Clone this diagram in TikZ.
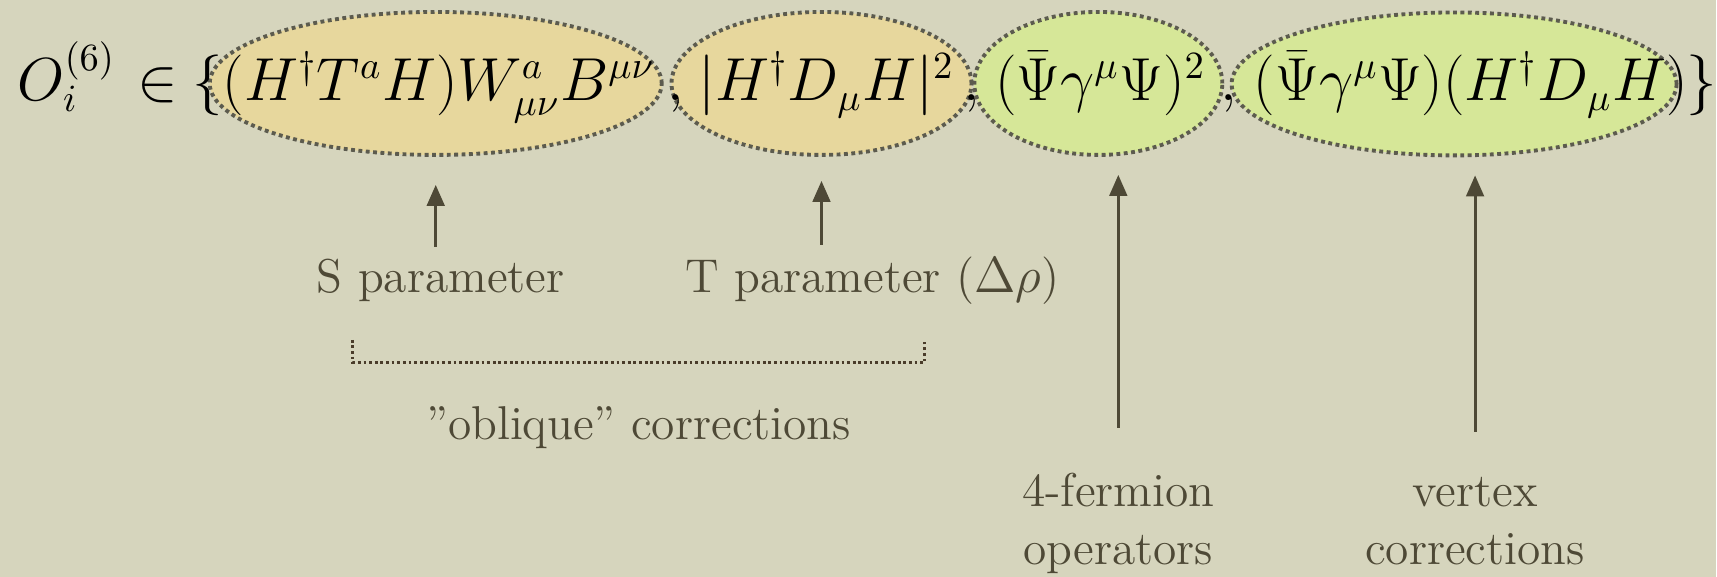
\documentclass[tikz,border=0pt]{standalone}
\usetikzlibrary{arrows.meta,shapes.geometric}
\definecolor{Linen}{HTML}{D6D5BD}
\definecolor{Tan}{HTML}{E7D79D}
\definecolor{Lime}{HTML}{D6E798}
\definecolor{Dots}{HTML}{5C5B4E}
\definecolor{Ink}{HTML}{4E4936}
\definecolor{Brace}{HTML}{4A3C2A}

\begin{document}
\begin{tikzpicture}[x=0.01cm,y=-0.01cm,>={Triangle[width=5pt,length=6pt]},
  every node/.style={text=Ink,inner sep=0pt},
  oval/.style={ellipse,draw=Dots,line width=1.1pt,dash pattern=on 1.1pt off 1pt,minimum height=1.43cm},
  term/.style={anchor=base west,text=black,font=\fontsize{16}{19}\selectfont},
  lbl/.style={anchor=base,font=\fontsize{13.5}{16.5}\selectfont,align=center},
  arr/.style={->,draw=Ink,line width=0.9pt}]
\fill[Linen] (0,0) rectangle (1717,577);
% the four operator classes
\node[oval,fill=Tan,minimum width=4.52cm] (e1) at (436,83.5) {};
\node[oval,fill=Tan,minimum width=3.0cm] (e2) at (822,83.5) {};
\node[oval,fill=Lime,minimum width=2.48cm] (e3) at (1099,83.5) {};
\node[oval,fill=Lime,minimum width=4.45cm] (e4) at (1455,84) {};
% formula
\node[term] (lhs) at (17,101) {$O_i^{(6)}$};
\node[term] (in) at (137,101) {$\in$};
\node[term] (lb) at (192,101) {$\{$};
\node[term] (t1) at (222,101) {$(H^\dagger T^a H)W^a_{\mu\nu}B^{\mu\nu}$};
\node[term] (c1) at (667,101) {$,$};
\node[term] (t2) at (698,101) {$|H^\dagger D_\mu H|^2$};
\node[term] (c2) at (963,101) {$,$};
\node[term] (t3) at (995,101) {$(\bar\Psi\gamma^\mu\Psi)^2$};
\node[term] (c3) at (1221,101) {$,$};
\node[term] (t4) at (1254,101) {$(\bar\Psi\gamma^\mu\Psi)(H^\dagger D_\mu H)$};
\node[term] (rb) at (1687,101) {$\}$};
% labels
\node[lbl] (sLbl) at (441,293) {S parameter};
\node[lbl,anchor=base west] (tLbl) at (685,293) {T parameter ($\Delta\rho$)};
\node[lbl] (obl) at (639,440) {''oblique'' corrections};
\node[lbl] (ferm) at (1119,565) {4-fermion\\operators};
\node[lbl] (vtx) at (1476,565) {vertex\\corrections};
\draw[Brace,line width=0.9pt,dash pattern=on 0.8pt off 0.8pt] (353,340) -- (353,363) -- (925,363) -- (925,340);
% arrows
\draw[arr,shorten <=0.12cm,shorten >=0.28cm] (e1.south |- sLbl.north) -- (e1.south);
\draw[arr,shorten <=0.12cm,shorten >=0.24cm] (e2.south |- tLbl.north) -- (e2.south);
\draw[arr,shorten <=0.45cm,shorten >=0.18cm] (ferm.north) -- (ferm.north |- e3.south);
\draw[arr,shorten <=0.45cm,shorten >=0.18cm] (vtx.north) -- (vtx.north |- e4.south);
\end{tikzpicture}
\end{document}
